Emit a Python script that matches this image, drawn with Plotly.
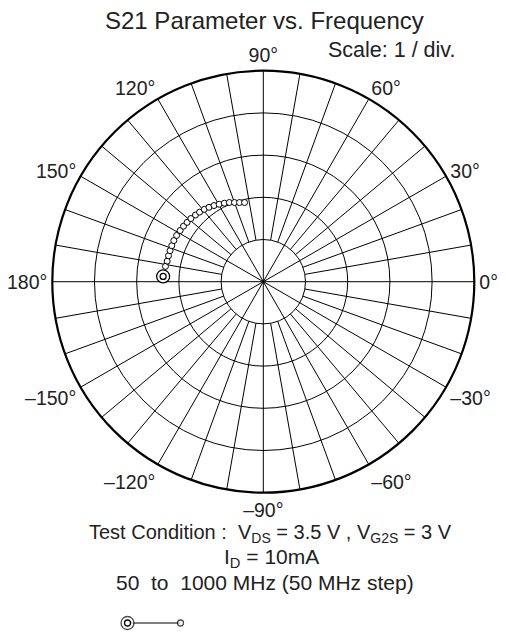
import plotly.graph_objects as go

# S21 data (magnitude in divisions, angle in degrees)
s21_mag = [2.377, 2.347, 2.329, 2.329, 2.329, 2.331, 2.334, 2.328, 2.314, 2.303,
           2.289, 2.277, 2.254, 2.236, 2.212, 2.183, 2.149, 2.113, 2.077, 2.042,
           1.997, 1.959, 1.928]
s21_ang = [177.0, 171.1, 167.9, 164.7, 161.6, 158.5, 155.3, 151.9, 148.4, 145.2,
           142.1, 138.9, 135.5, 132.5, 129.2, 126.1, 122.9, 119.7, 116.4, 113.2,
           110.0, 106.7, 103.3]

major_deg = list(range(0, 360, 30))
major_text = ["0°", "30°", "60°", "90°", "120°", "150°", "180°",
              "–150°", "–120°", "–90°", "–60°", "–30°"]
minor_spoke_deg = [a for a in range(0, 360, 10) if a % 30 != 0]
r_inner, r_outer = 1, 5

FONT = "Liberation Sans, Arial, sans-serif"
W, H = 506, 634

fig = go.Figure()

# minor spokes: from first circle to the outer circle
sr, st = [], []
for a in minor_spoke_deg:
    sr += [r_inner, r_outer, None]
    st += [a, a, None]
fig.add_trace(go.Scatterpolar(r=sr, theta=st, mode="lines",
                              line=dict(color="black", width=1),
                              hoverinfo="skip", showlegend=False))

# data points
fig.add_trace(go.Scatterpolar(r=s21_mag, theta=s21_ang, mode="markers",
                              marker=dict(size=6, color="white",
                                          line=dict(color="black", width=1)),
                              showlegend=False))
# start marker (double circle)
fig.add_trace(go.Scatterpolar(r=s21_mag[:1], theta=s21_ang[:1], mode="markers",
                              marker=dict(size=13, color="white",
                                          line=dict(color="black", width=1.3)),
                              showlegend=False))
fig.add_trace(go.Scatterpolar(r=s21_mag[:1], theta=s21_ang[:1], mode="markers",
                              marker=dict(size=6, color="white",
                                          line=dict(color="black", width=1.3)),
                              showlegend=False))

# legend key: start (double circle) -> end (small circle)
key_x = [0, 1]
key_y = [0, 0]
fig.add_trace(go.Scatter(x=key_x, y=key_y, mode="lines+markers",
                         line=dict(color="black", width=1),
                         marker=dict(size=[13, 6], color="white",
                                     line=dict(color="black", width=1.3)),
                         xaxis="x", yaxis="y", showlegend=False, cliponaxis=False))
fig.add_trace(go.Scatter(x=key_x[:1], y=key_y[:1], mode="markers",
                         marker=dict(size=6, color="white",
                                     line=dict(color="black", width=1.3)),
                         xaxis="x", yaxis="y", showlegend=False, cliponaxis=False))

cx0, cx1 = 52 / W, 474.6 / W
cy0, cy1 = 1 - 492.7 / H, 1 - 70.7 / H

fig.update_layout(
    width=W, height=H,
    margin=dict(l=0, r=0, t=0, b=0),
    paper_bgcolor="white", plot_bgcolor="white",
    font=dict(family=FONT, color="#222"),
    showlegend=False,
    polar=dict(
        domain=dict(x=[cx0, cx1], y=[cy0, cy1]),
        bgcolor="white",
        radialaxis=dict(range=[0, r_outer], dtick=1, tick0=0,
                        showticklabels=False, ticks="", showline=False,
                        gridcolor="black", gridwidth=1),
        angularaxis=dict(rotation=0, direction="counterclockwise",
                         tickmode="array", tickvals=major_deg, ticktext=major_text,
                         tickfont=dict(size=19.5, family=FONT, color="#222"),
                         ticks="", showline=True, linecolor="black", linewidth=2.2,
                         showgrid=True, gridcolor="black", gridwidth=1),
    ),
    xaxis=dict(domain=[101 / W, 207 / W], range=[-0.5, 1.5], visible=False,
               fixedrange=True),
    yaxis=dict(domain=[1 - 633 / H, 1 - 613 / H], range=[-1, 1], visible=False,
               fixedrange=True),
)

def ann(text, xpx, ypx, size):
    fig.add_annotation(text=text, x=xpx / W, y=1 - ypx / H, xref="paper", yref="paper",
                       xanchor="center", yanchor="middle", showarrow=False,
                       font=dict(size=size, family=FONT, color="#222"))

ann("S21 Parameter vs. Frequency", 264.5, 20, 24)
ann("Scale: 1 / div.", 391.5, 50, 21.5)
ann("Test Condition :\u00a0\u00a0V<sub>DS</sub> = 3.5 V , V<sub>G2S</sub> = 3 V", 270, 533, 20)
ann("I<sub>D</sub> = 10mA", 271, 558, 21)
ann("50\u00a0\u00a0to\u00a0\u00a01000 MHz (50 MHz step)", 265, 582, 21)

fig.write_html("out.html",
               config={"displayModeBar": False},
               post_script="document.body.style.margin='0px';"
                           "document.documentElement.style.overflow='hidden';")
